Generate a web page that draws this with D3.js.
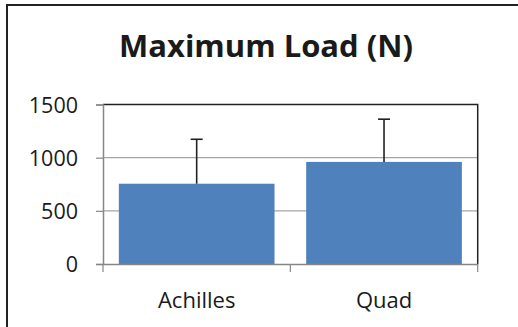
<!DOCTYPE html>
<html>
<head>
    <meta charset="utf-8" />
    <script src="https://cdn.jsdelivr.net/npm/d3@7"></script>
    <style>
        html, body { margin: 0; padding: 0; background: #fff; }
        svg { display: block; }
        text { font-family: "Open Sans", sans-serif; fill: #1a1a1a; }
    </style>
</head>
<body>
    <div id="chart"></div>
    <script>
        var categories = ['Achilles', 'Quad'];
        var loads = [755, 960];
        var errors = [418, 402];
        var yTicks = [0, 500, 1000, 1500];

        var width = 518, height = 327;
        var svg = d3.select('#chart').append('svg')
            .attr('width', width)
            .attr('height', height);

        // outer chart frame (right/bottom edges fall outside the picture)
        svg.append('rect')
            .attr('x', 7).attr('y', 5)
            .attr('width', 530).attr('height', 340)
            .attr('fill', 'none')
            .attr('stroke', '#222')
            .attr('stroke-width', 2);

        svg.append('text')
            .attr('x', 266).attr('y', 57)
            .attr('text-anchor', 'middle')
            .attr('font-size', '31px')
            .attr('font-weight', 'bold')
            .text('Maximum Load (N)');

        var plotL = 103, plotR = 477.7, plotT = 104.5, plotB = 264;

        var x = d3.scaleBand().domain(categories).range([plotL, plotR])
            .paddingInner(0.169).paddingOuter(0.0845);
        var y = d3.scaleLinear().domain([0, 1500]).range([plotB, plotT]);

        // gridlines
        svg.append('g')
            .selectAll('line')
            .data(yTicks.slice(1, -1))
            .join('line')
            .attr('x1', plotL).attr('x2', plotR)
            .attr('y1', d => y(d)).attr('y2', d => y(d))
            .attr('stroke', '#a6a6a6')
            .attr('stroke-width', 1.2);

        // plot area top/right border
        svg.append('path')
            .attr('d', `M${plotL},${y(1500)}H${plotR}V${plotB}`)
            .attr('fill', 'none')
            .attr('stroke', '#222')
            .attr('stroke-width', 1.5);

        // bars
        svg.append('g')
            .selectAll('rect')
            .data(loads)
            .join('rect')
            .attr('x', (d, i) => x(categories[i]))
            .attr('y', d => y(d))
            .attr('width', x.bandwidth())
            .attr('height', d => plotB - y(d))
            .attr('fill', '#4f81bd');

        // error bars (upper only)
        var eb = svg.append('g').attr('stroke', '#222').attr('stroke-width', 1.6);
        loads.forEach(function (d, i) {
            var cx = x(categories[i]) + x.bandwidth() / 2;
            eb.append('line')
                .attr('x1', cx).attr('x2', cx)
                .attr('y1', y(d)).attr('y2', y(d + errors[i]));
            eb.append('line')
                .attr('x1', cx - 6).attr('x2', cx + 6)
                .attr('y1', y(d + errors[i])).attr('y2', y(d + errors[i]));
        });

        // y axis
        var axisY = svg.append('g')
            .attr('transform', `translate(${plotL},0)`)
            .call(d3.axisLeft(y).tickValues(yTicks).tickFormat(d3.format('d'))
                .tickSize(7).tickPadding(18));
        axisY.select('.domain').attr('stroke', '#868686').attr('stroke-width', 1.5);
        axisY.selectAll('line').attr('stroke', '#868686').attr('stroke-width', 1.2);
        axisY.selectAll('text')
            .attr('font-size', '21.5px')
            .attr('font-family', '"Open Sans", sans-serif')
            .attr('fill', '#1a1a1a')
            .attr('dy', '0.36em');

        // x axis
        var axisX = svg.append('g')
            .attr('transform', `translate(0,${plotB})`)
            .call(d3.axisBottom(x).tickSize(0).tickPadding(28).tickSizeOuter(0));
        axisX.select('.domain').attr('stroke', '#868686').attr('stroke-width', 1.5);
        axisX.selectAll('text')
            .attr('font-size', '22px')
            .attr('font-family', '"Open Sans", sans-serif')
            .attr('fill', '#1a1a1a')
            .attr('dy', '0.71em');

        // category boundary ticks
        var bounds = [plotL].concat(categories.map(c => x(c) - x.step() * 0.0845 + x.step()));
        axisX.selectAll('.bound')
            .data(bounds)
            .join('line')
            .attr('class', 'bound')
            .attr('x1', d => d).attr('x2', d => d)
            .attr('y1', 0).attr('y2', 8)
            .attr('stroke', '#868686')
            .attr('stroke-width', 1.2);
    </script>
</body>
</html>
